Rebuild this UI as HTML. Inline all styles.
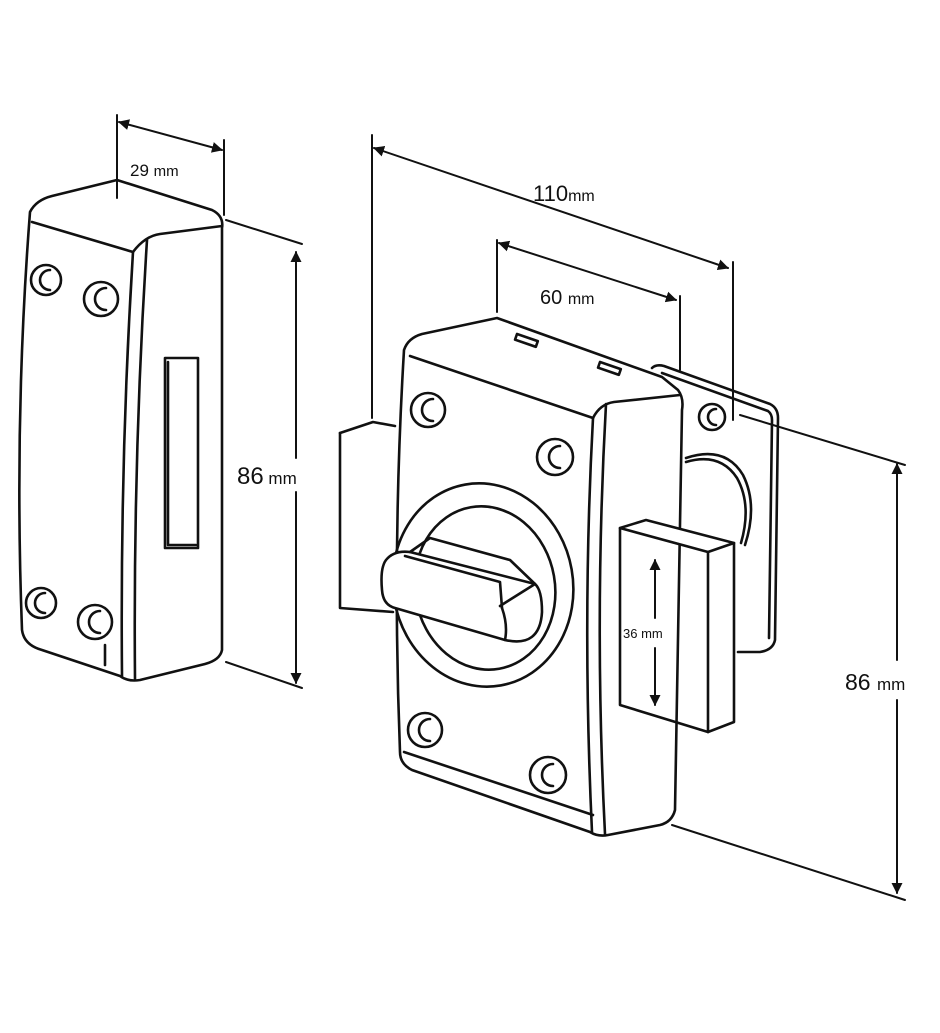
<!DOCTYPE html>
<html><head><style>
html,body{margin:0;padding:0;background:#fff;}
svg{display:block;}
text{font-family:"Liberation Sans",sans-serif;fill:#111;}
</style></head><body>
<svg width="940" height="1033" viewBox="0 0 940 1033" xmlns="http://www.w3.org/2000/svg">
<defs>
<marker id="a" markerWidth="11" markerHeight="11" refX="10" refY="5.5" orient="auto-start-reverse" markerUnits="userSpaceOnUse"><path d="M0,0 L11,5.5 L0,11 z" fill="#111"/></marker>
</defs>
<g fill="none" stroke="#111" stroke-width="2.6" stroke-linejoin="round" stroke-linecap="round">
<!-- LEFT PART -->
<path d="M30,212 Q36,200 52,196 L117,180 L212,210 Q224,216 222,228 L222,650 Q220,660 205,664 L140,680 Q128,682 120,676 L42,650 Q24,645 22,630 Q14,420 30,212 z"/>
<path d="M32,222 L133,252"/>
<path d="M133,252 Q145,236 160,234 L222,226"/>
<path d="M133,252 Q120,460 122,676"/>
<path d="M147,240 Q133,460 135,679"/>
<rect x="165" y="358" width="33" height="190"/>
<path d="M168,362 L168,545 L196,545"/>
<circle cx="46" cy="280" r="15"/><path d="M50,270 A10,10 0 1 0 50,290"/>
<circle cx="101" cy="299" r="17"/><path d="M106,288 A11,11 0 1 0 106,310"/>
<circle cx="41" cy="603" r="15"/><path d="M45,593 A10,10 0 1 0 45,613"/>
<circle cx="95" cy="622" r="17"/><path d="M100,611 A11,11 0 1 0 100,633"/>
<path d="M105,645 L105,665"/>

<!-- back plate -->
<path d="M652,368 Q656,364 664,366 L770,404 Q778,408 778,418 L775,640 Q773,650 760,652 L738,652"/>
<path d="M662,373 L768,411 Q772,414 772,420 L769,638"/>
<circle cx="712" cy="417" r="13"/><path d="M716,409 A8,8 0 1 0 716,425"/>
<path d="M686,458 Q725,445 743,475 Q758,505 745,545" />
<path d="M686,462 Q720,452 737,478 Q752,505 741,543" />
<!-- left bolt -->
<path d="M340,433 L373,422 L395,426"/>
<path d="M340,433 L340,608 L393,612"/>
<!-- body -->
<path d="M404,350 Q408,338 422,334 L497,318 L662,377 L678,390 Q684,398 682,410 L675,810 Q672,822 660,825 L608,835 Q598,837 590,832 L412,770 Q400,764 400,752 Q392,550 404,350 z"/>
<path d="M410,356 L593,418"/>
<path d="M593,418 Q600,404 614,402 L680,395"/>
<path d="M593,418 Q582,620 592,832"/>
<path d="M606,404 Q594,620 605,834"/>
<rect x="0" y="0" width="22" height="6" transform="translate(517,334) rotate(19)"/>
<rect x="0" y="0" width="22" height="6" transform="translate(600,362) rotate(19)"/>
<path d="M404,752 L593,815"/>
<!-- screws -->
<circle cx="428" cy="410" r="17"/><path d="M433,399 A11,11 0 1 0 433,421"/>
<circle cx="555" cy="457" r="18"/><path d="M560,446 A11,11 0 1 0 560,468"/>
<circle cx="425" cy="730" r="17"/><path d="M430,719 A11,11 0 1 0 430,741"/>
<circle cx="548" cy="775" r="18"/><path d="M553,764 A11,11 0 1 0 553,786"/>
<!-- knob ring -->
<ellipse cx="483" cy="585" rx="90" ry="102" transform="rotate(-10 483 585)"/>
<ellipse cx="485" cy="588" rx="70" ry="82" transform="rotate(-10 485 588)"/>
<!-- handle -->
<path d="M386,560 Q380,568 382,590 Q383,605 395,608 L505,640 Q540,648 542,612 Q542,590 535,584 L410,552 Q394,550 386,560 z" fill="#fff"/>
<path d="M410,552 L430,538 L510,560 L535,584"/>
<path d="M502,608 Q508,625 505,640"/>
<path d="M500,606 L535,584"/>
<path d="M405,556 L500,582 L502,608"/>
<!-- keeper block -->
<path d="M620,528 L646,520 L734,543 L708,552 z" fill="#fff"/>
<path d="M620,528 L620,705 L708,732 L708,552"/>
<path d="M734,543 L734,722 L708,732"/>
</g>
<g fill="none" stroke="#111" stroke-width="2" stroke-linecap="round">
<path d="M117,115 L117,198"/><path d="M224,140 L224,215"/>
<path d="M119,122 L222,150" marker-start="url(#a)" marker-end="url(#a)"/>
<path d="M226,220 L302,244"/><path d="M226,662 L302,688"/>
<path d="M296,252 L296,458" marker-start="url(#a)"/>
<path d="M296,492 L296,683" marker-end="url(#a)"/>
<path d="M372,135 L372,418"/><path d="M733,262 L733,420"/>
<path d="M374,148 L728,268" marker-start="url(#a)" marker-end="url(#a)"/>
<path d="M497,240 L497,312"/><path d="M680,296 L680,370"/>
<path d="M499,243 L676,300" marker-start="url(#a)" marker-end="url(#a)"/>
<path d="M740,415 L905,465"/><path d="M672,825 L905,900"/>
<path d="M897,464 L897,660" marker-start="url(#a)"/>
<path d="M897,700 L897,893" marker-end="url(#a)"/>
<path d="M655,560 L655,618" marker-start="url(#a)"/>
<path d="M655,648 L655,705" marker-end="url(#a)"/>
</g>
<text x="130" y="176" font-size="17">29 <tspan font-size="15">mm</tspan></text>
<text x="237" y="484" font-size="24">86<tspan font-size="17"> mm</tspan></text>
<text x="533" y="201" font-size="22">110<tspan font-size="16">mm</tspan></text>
<text x="540" y="304" font-size="20">60 <tspan font-size="16">mm</tspan></text>
<text x="845" y="690" font-size="23">86 <tspan font-size="17">mm</tspan></text>
<text x="623" y="638" font-size="13">36 mm</text>
</svg>
</body></html>
